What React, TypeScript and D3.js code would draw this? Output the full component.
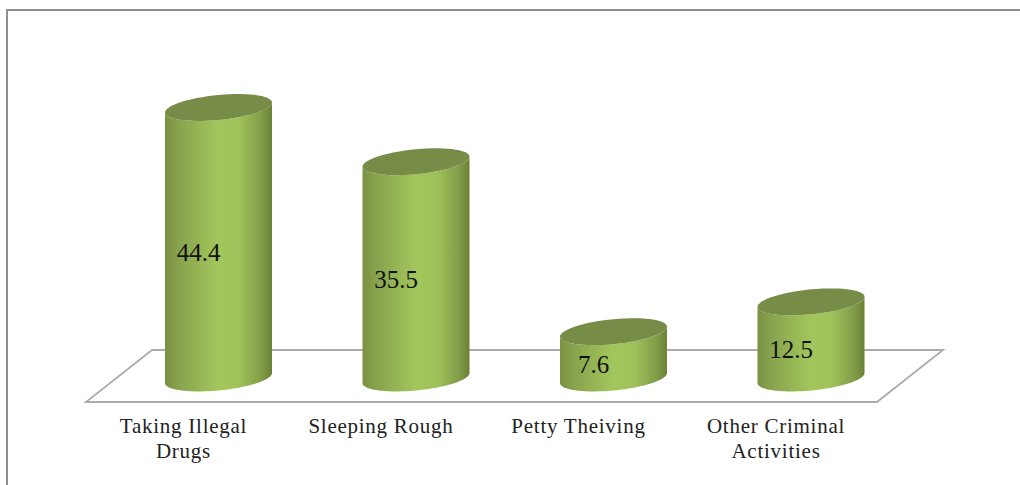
import React from "react";
import * as d3 from "d3";

const categories = ["Taking Illegal Drugs", "Sleeping Rough", "Petty Theiving", "Other Criminal Activities"];
const categoryLines = [["Taking Illegal", "Drugs"], ["Sleeping Rough"], ["Petty Theiving"], ["Other Criminal", "Activities"]];
const values = [44.4, 35.5, 7.6, 12.5];

const W = 1020;
const H = 485;
const BASE_Y = 378;
const RX = 53.5;
const RY = 12.5;
const TILT = 5; // vertical rise of the ellipse's right end, in px

const x = d3.scaleBand<string>().domain(categories).range([119.75, 909.75]);
const y = d3.scaleLinear().domain([0, 44.4]).range([BASE_Y, 107.5]);

const pathLine = d3.line<[number, number]>().curve(d3.curveLinear);

// Point on a sheared ellipse, so the rim's extremes stay on the cylinder's sides.
const rimPoint = (cx: number, cy: number, t: number): [number, number] => [
  cx + RX * Math.cos(t),
  cy + RY * Math.sin(t) - TILT * Math.cos(t),
];

const rim = (cx: number, cy: number, from: number, to: number) =>
  d3.range(0, 61).map((i) => rimPoint(cx, cy, from + ((to - from) * i) / 60));

const cylinderBody = (cx: number, topY: number) =>
  pathLine([...rim(cx, topY, Math.PI, 0), ...rim(cx, BASE_Y, 0, Math.PI)]) + "Z";

const cylinderTop = (cx: number, topY: number) =>
  pathLine(rim(cx, topY, 0, Math.PI * 2)) + "Z";

const floor: [number, number][] = [[152, 350], [86, 402], [877, 402], [943, 350]];

const serif = "'Liberation Serif', 'Times New Roman', serif";

export default function App() {
  return (
    <svg
      width={W}
      height={H}
      viewBox={`0 0 ${W} ${H}`}
      style={{ position: "fixed", left: 0, top: 0, display: "block", background: "#fff" }}
    >
      <defs>
        <linearGradient id="cyl" x1="0" x2="1" y1="0" y2="0">
          <stop offset="0" stopColor="#7a9042" />
          <stop offset="0.12" stopColor="#87a24c" />
          <stop offset="0.5" stopColor="#a3c65c" />
          <stop offset="0.7" stopColor="#9fc159" />
          <stop offset="0.9" stopColor="#829c49" />
          <stop offset="1" stopColor="#6b8136" />
        </linearGradient>
      </defs>

      {/* Outer frame: top and left edges only */}
      <path d="M7,485V10H1020" fill="none" stroke="#8f8f8f" strokeWidth={2} />

      {/* Chart floor */}
      <path d={pathLine(floor) + "Z"} fill="none" stroke="#ababab" strokeWidth={1.8} />

      {categories.map((c, i) => {
        const cx = (x(c) as number) + x.bandwidth() / 2;
        const topY = y(values[i]);
        return (
          <g key={c}>
            <path d={cylinderBody(cx, topY)} fill="url(#cyl)" />
            <path d={cylinderTop(cx, topY)} fill="#778c47" />
            <text
              x={cx - 20}
              y={(topY + BASE_Y) / 2 + 18}
              textAnchor="middle"
              fontFamily={serif}
              fontSize={25}
              fill="#111"
            >
              {values[i]}
            </text>
            <text textAnchor="middle" fontFamily={serif} fontSize={21} letterSpacing={0.75} fill="#222">
              {categoryLines[i].map((line, j) => (
                <tspan key={line} x={cx - 35} y={433 + j * 25}>
                  {line}
                </tspan>
              ))}
            </text>
          </g>
        );
      })}
    </svg>
  );
}
